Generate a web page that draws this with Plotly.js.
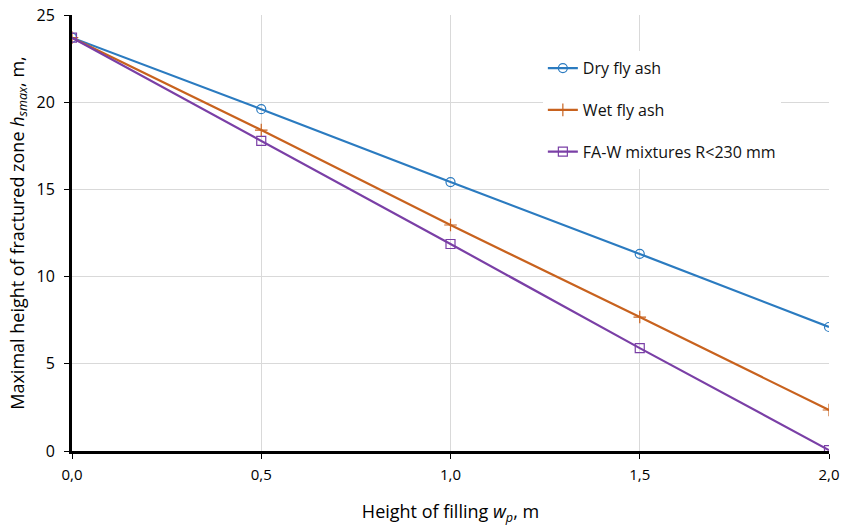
<!DOCTYPE html>
<html><head><meta charset="utf-8">
<script src="https://cdn.plot.ly/plotly-3.0.1.min.js"></script>
<style>body{margin:0;background:#fff}#chart{width:853px;height:526px}</style>
</head><body><div id="chart"></div>
<script>
const xVals = [0.0, 0.5, 1.0, 1.5, 2.0];
const dryFlyAsh = [23.7, 19.6, 15.42, 11.3, 7.11];
const wetFlyAsh = [23.7, 18.4, 12.96, 7.68, 2.35];
const faWMixtures = [23.7, 17.78, 11.87, 5.9, 0.05];
const seriesNames = ["Dry fly ash", "Wet fly ash", "FA-W mixtures R<230 mm"];
const xTickVals = [0, 0.5, 1.0, 1.5, 2.0];
const xTickText = ["0,0", "0,5", "1,0", "1,5", "2,0"];
const yTickVals = [0, 5, 10, 15, 20, 25];

const colors = ["#2B7BC0", "#C8621E", "#7A3FA6"];
const symbols = ["circle-open", "cross-thin-open", "square-open"];
const ys = [dryFlyAsh, wetFlyAsh, faWMixtures];

const traces = ys.map((y, i) => ({
  x: xVals, y: y, name: seriesNames[i], type: "scatter", mode: "lines+markers",
  legendgroup: "g" + i,
  line: {color: colors[i], width: 2.2},
  marker: {symbol: symbols[i], size: 9, color: colors[i], line: {color: colors[i], width: 1.2}}
}));

const layout = {
  width: 853, height: 526,
  margin: {l: 72, r: 24, t: 15, b: 75},
  paper_bgcolor: "#fff", plot_bgcolor: "#fff",
  font: {family: "Open Sans, sans-serif", color: "#000"},
  showlegend: true,
  legend: {x: 0.622, y: 0.917, xanchor: "left", yanchor: "top", bgcolor: "#fff",
    font: {size: 16, color: "#111"}, tracegroupgap: 18, traceorder: "grouped", itemwidth: 30},
  xaxis: {range: [0, 2], tickvals: xTickVals, ticktext: xTickText,
    showgrid: true, gridcolor: "#d9d9d9", gridwidth: 1, zeroline: false,
    showline: true, linecolor: "#000", linewidth: 3, ticks: "outside", ticklen: 5, tickcolor: "#000", tickwidth: 1,
    tickfont: {size: 15, family: "Liberation Sans Narrow, Open Sans, sans-serif"}, ticklabelstandoff: 3,
    title: {text: "Height of filling <i>w</i><sub><i>p</i></sub>, m", font: {size: 18}, standoff: 24}},
  yaxis: {range: [0, 25], tickvals: yTickVals,
    showgrid: true, gridcolor: "#d9d9d9", gridwidth: 1, zeroline: false,
    showline: true, linecolor: "#000", linewidth: 3, ticks: "outside", ticklen: 5, tickcolor: "#000", tickwidth: 1,
    tickfont: {size: 16}, ticklabelstandoff: 6,
    title: {text: "Maximal height of fractured zone <i>h</i><sub><i>smax</i></sub>, m,", font: {size: 18}, standoff: 8}}
};
Plotly.newPlot("chart", traces, layout, {displayModeBar: false});
</script></body></html>
